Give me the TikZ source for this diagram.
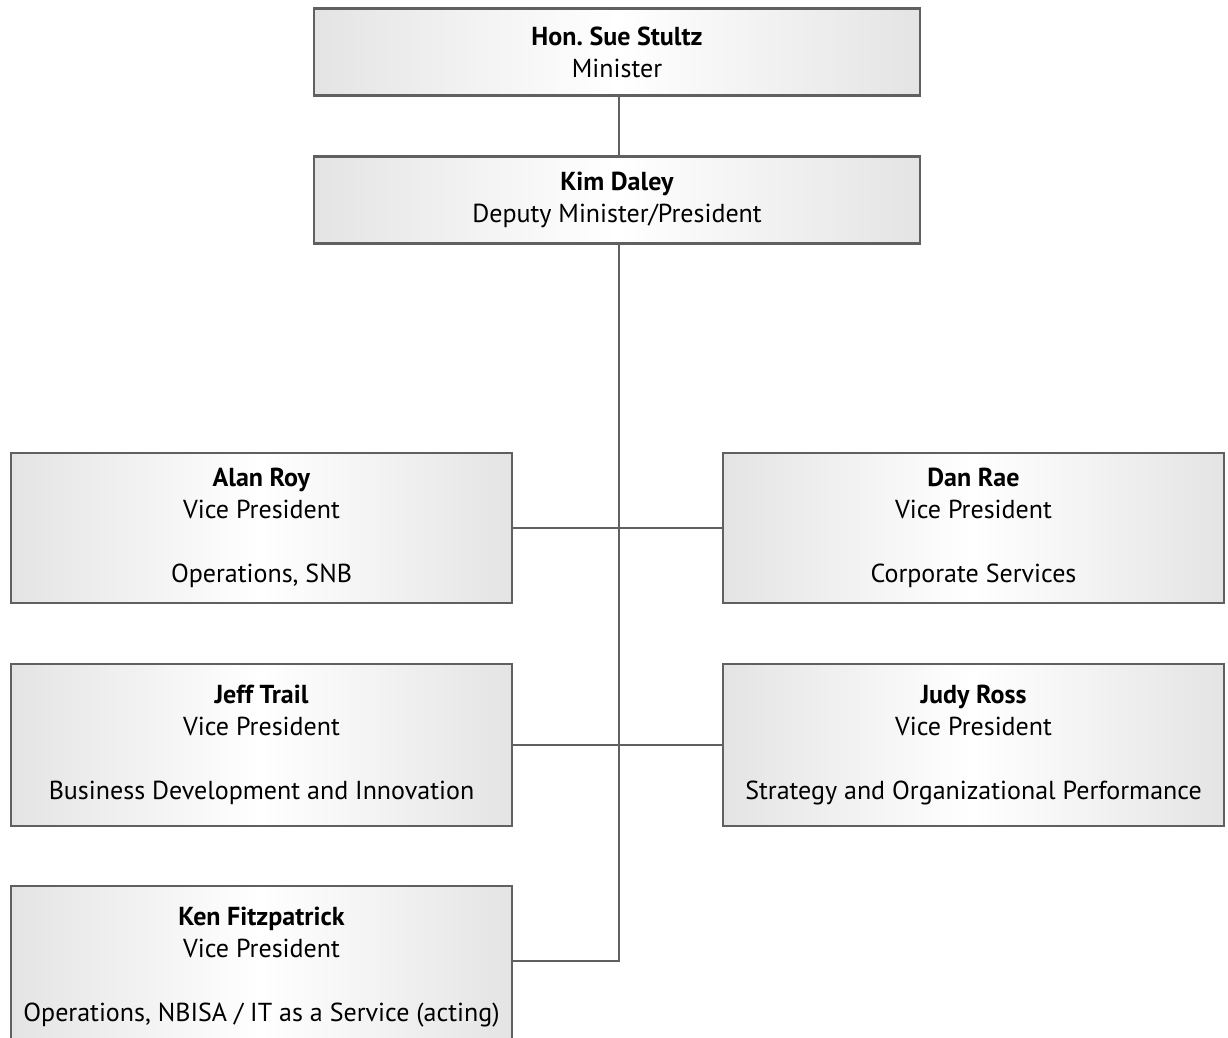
\documentclass[tikz,border=0pt]{standalone}
\usepackage{fontspec}
\setmainfont{PT Sans}
\frenchspacing
\definecolor{edgegrey}{RGB}{96,96,96}
\definecolor{shadegrey}{RGB}{228,228,228}
\tikzset{
  orgbox/.style={draw=edgegrey, line width=2.5pt, rectangle, inner sep=0pt,
    left color=shadegrey, right color=shadegrey, middle color=white,
    align=center, font=\fontsize{26}{32}\selectfont},
  wide/.style={minimum width=606pt, minimum height=87pt},
  vp/.style={minimum width=501pt, minimum height=150pt},
  vpt/.style={minimum width=501pt, minimum height=162pt},
  link/.style={draw=edgegrey, line width=2.5pt}
}
\begin{document}
\begin{tikzpicture}[x=1pt,y=-1pt]
\useasboundingbox (0,0) rectangle (1228,1038);
\node[orgbox, wide] (min) at (617,52) {\textbf{Hon. Sue Stultz}\\Minister};
\node[orgbox, wide] (dep) at (617,200) {\textbf{Kim Daley}\\Deputy Minister/President};
\node[orgbox, vp] (alan) at (261.5,528) {\textbf{Alan Roy}\\Vice President\\[32pt]Operations, SNB};
\node[orgbox, vp] (dan) at (973.5,528) {\textbf{Dan Rae}\\Vice President\\[32pt]Corporate Services};
\node[orgbox, vpt] (jeff) at (261.5,745) {\textbf{Jeff Trail}\\Vice President\\[32pt]Business Development and Innovation};
\node[orgbox, vpt] (judy) at (973.5,745) {\textbf{Judy Ross}\\Vice President\\[32pt]Strategy and Organizational Performance};
\node[orgbox, vpt] (ken) at (261.5,967) {\textbf{Ken Fitzpatrick}\\Vice President\\[32pt]Operations, NBISA / IT as a Service (acting)};
\coordinate (trunktop) at ([xshift=2pt]dep.south);
\coordinate (corner) at ([yshift=6pt]trunktop |- ken.east);
\draw[link] ([xshift=2pt]min.south) -- ([xshift=2pt]dep.north);
\draw[link] (trunktop) -- (corner) -- (ken.east |- corner);
\draw[link] (alan.east) -- (dan.west);
\draw[link] (jeff.east) -- (judy.west);
\end{tikzpicture}
\end{document}
